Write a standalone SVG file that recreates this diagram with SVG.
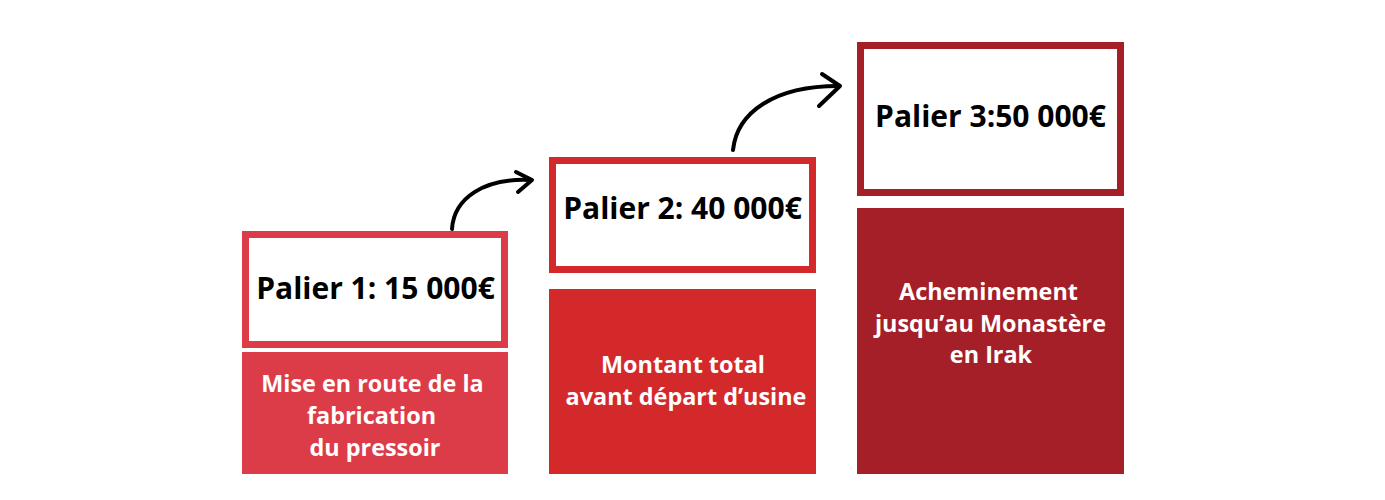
<svg xmlns="http://www.w3.org/2000/svg" width="1385" height="500" viewBox="0 0 1385 500">
<defs>
<style>
.frame{fill:#ffffff;stroke-width:7}
.title{font-family:"Open Sans","Liberation Sans",sans-serif;font-weight:700;font-size:30px;fill:#000000;text-anchor:middle}
.desc{font-family:"Open Sans","Liberation Sans",sans-serif;font-weight:700;font-size:23.4px;fill:#ffffff;text-anchor:middle}
.arrow{fill:none;stroke:#000000;stroke-width:4;stroke-linecap:round;stroke-linejoin:round}
</style>
</defs>
<rect width="1385" height="500" fill="#ffffff"/>
<g id="palier1">
<rect class="frame" x="245.5" y="234.5" width="259" height="110" stroke="#dc3c47"/>
<text class="title" x="375.5" y="299">Palier 1: 15 000€</text>
<rect x="242" y="352" width="266" height="122" fill="#dc3c47"/>
<text class="desc" x="372.5" y="392">Mise en route de la</text>
<text class="desc" x="371.5" y="424">fabrication</text>
<text class="desc" x="375" y="456">du pressoir</text>
</g>
<g id="palier2">
<rect class="frame" x="552.5" y="160.5" width="260" height="109" stroke="#d4292b"/>
<text class="title" x="682.5" y="219">Palier 2: 40 000€</text>
<rect x="549" y="289" width="267" height="185" fill="#d4292b"/>
<text class="desc" x="683" y="373">Montant total</text>
<text class="desc" x="686" y="405">avant départ d’usine</text>
</g>
<g id="palier3">
<rect class="frame" x="860.5" y="45.5" width="260" height="147" stroke="#a41f28"/>
<text class="title" x="990.5" y="127">Palier 3:50 000€</text>
<rect x="857" y="208" width="267" height="266" fill="#a41f28"/>
<text class="desc" x="988.5" y="300">Acheminement</text>
<text class="desc" x="990.5" y="332">jusqu’au Monastère</text>
<text class="desc" x="991" y="363">en Irak</text>
</g>
<g id="connectors">
<path class="arrow" d="M452,229 C454,198 484,178 530,180"/>
<path class="arrow" d="M516,172 L532,180 L518,192"/>
<path class="arrow" d="M733,150 C737,112 775,86 838,86"/>
<path class="arrow" d="M822,74 L840,86 L819,106"/>
</g>
</svg>
